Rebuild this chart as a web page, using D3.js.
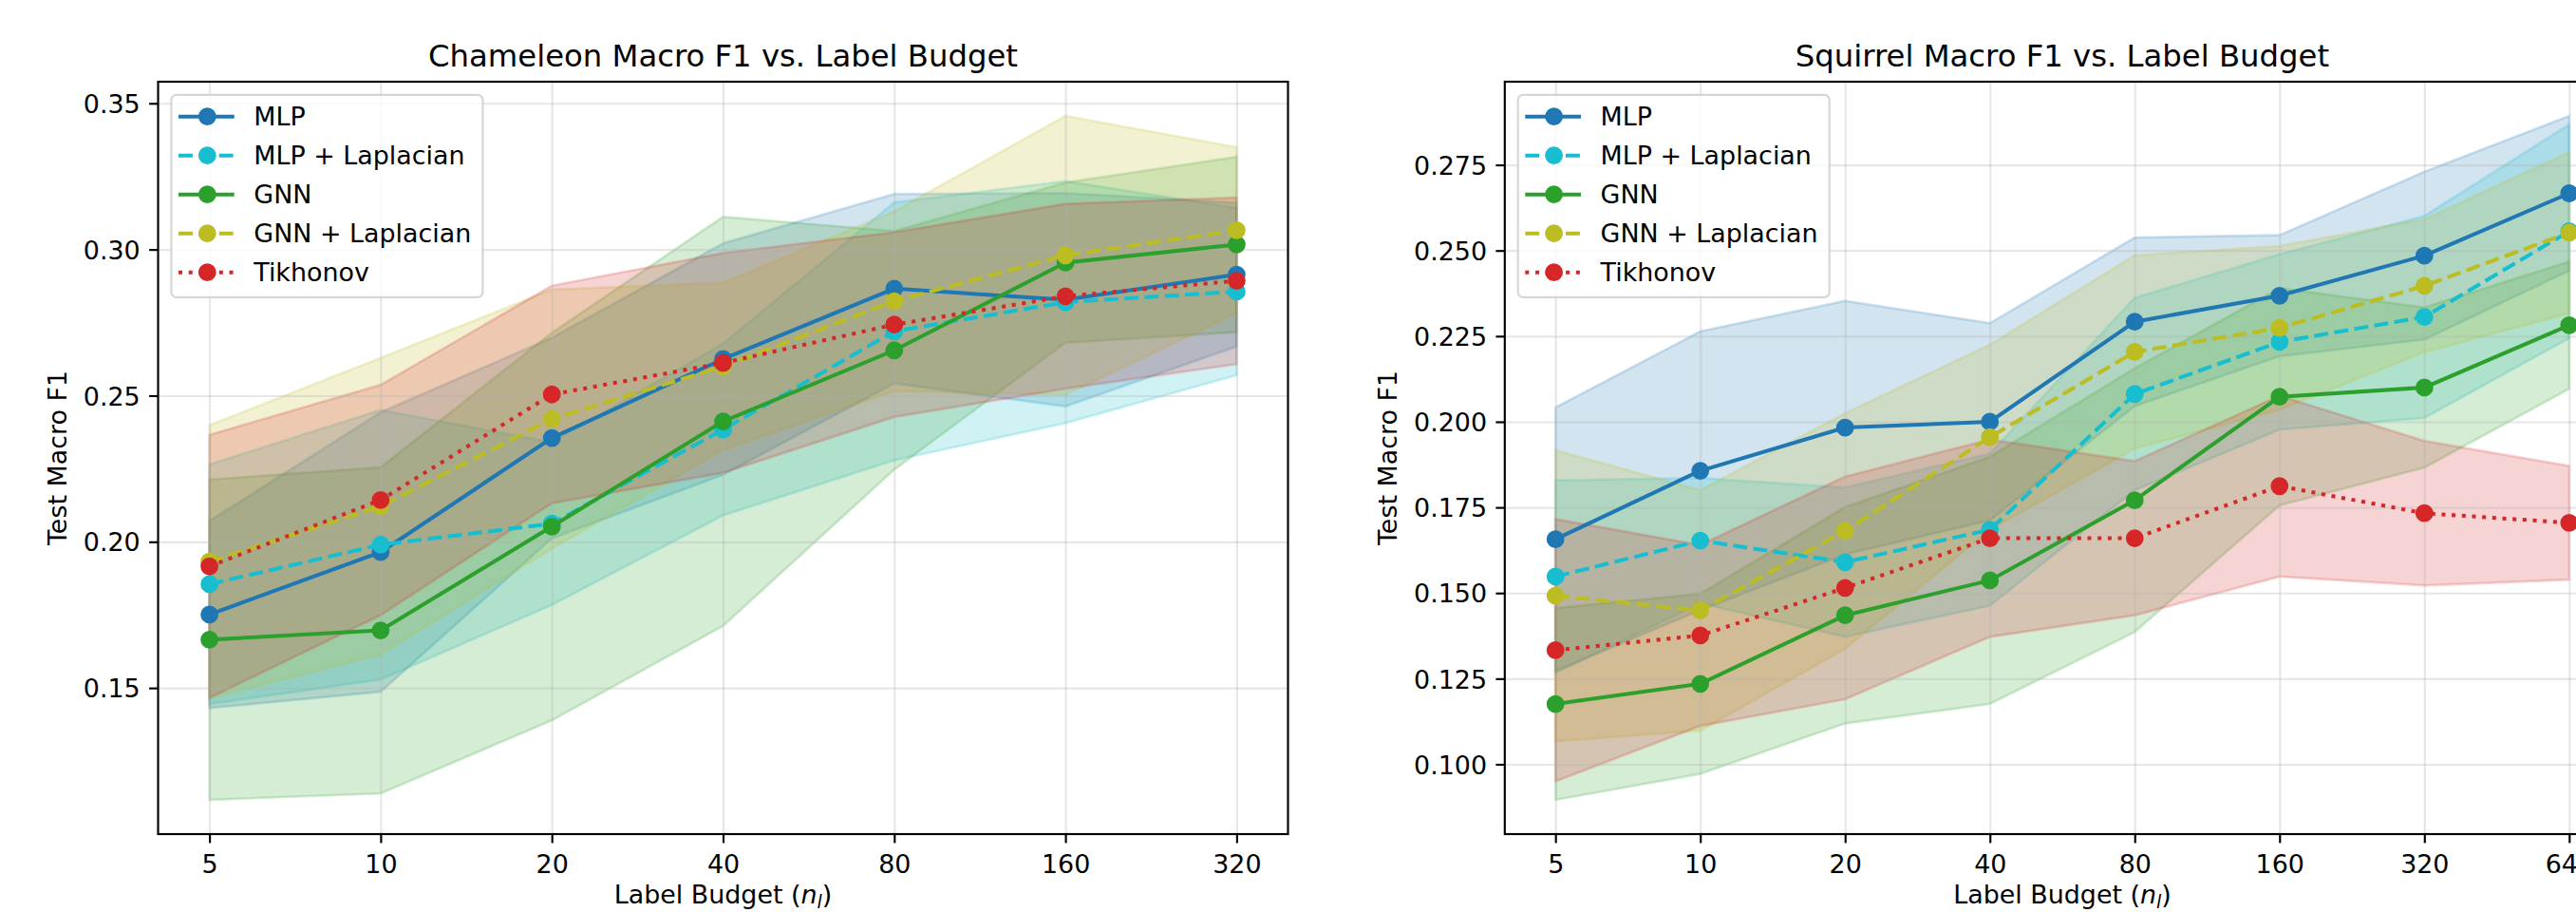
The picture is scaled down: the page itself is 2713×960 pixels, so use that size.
<!DOCTYPE html>
<html>
<head>
<meta charset="utf-8">
<script src="https://cdn.jsdelivr.net/npm/d3@7"></script>
<style>
  body { margin: 0; background: #fff; }
  svg text { font-family: "DejaVu Sans", sans-serif; fill: #000; }
</style>
</head>
<body>
<div id="chart"></div>
<script>
// label budgets (x values)
var budgets_chameleon = [5, 10, 20, 40, 80, 160, 320];
var budgets_squirrel  = [5, 10, 20, 40, 80, 160, 320, 640];

var method_names = ["MLP", "MLP + Laplacian", "GNN", "GNN + Laplacian", "Tikhonov"];

// Chameleon: mean macro F1 and std (band = mean +/- std)
var cham_mlp_mean     = [0.1751, 0.1965, 0.2355, 0.2625, 0.2866, 0.2828, 0.2914];
var cham_mlp_std      = [0.0320, 0.0478, 0.0343, 0.0396, 0.0324, 0.0365, 0.0246];
var cham_mlplap_mean  = [0.1855, 0.1990, 0.2062, 0.2384, 0.2720, 0.2820, 0.2856];
var cham_mlplap_std   = [0.0410, 0.0461, 0.0278, 0.0294, 0.0441, 0.0414, 0.0286];
var cham_gnn_mean     = [0.1665, 0.1697, 0.2052, 0.2412, 0.2655, 0.2955, 0.3017];
var cham_gnn_std      = [0.0548, 0.0558, 0.0663, 0.0700, 0.0408, 0.0274, 0.0300];
var cham_gnnlap_mean  = [0.1932, 0.2122, 0.2420, 0.2600, 0.2823, 0.2980, 0.3066];
var cham_gnnlap_std   = [0.0467, 0.0507, 0.0443, 0.0286, 0.0307, 0.0477, 0.0284];
var cham_tik_mean     = [0.1916, 0.2143, 0.2504, 0.2612, 0.2743, 0.2840, 0.2893];
var cham_tik_std      = [0.0450, 0.0394, 0.0372, 0.0376, 0.0316, 0.0316, 0.0285];

// Squirrel
var sq_mlp_mean     = [0.1657, 0.1857, 0.1983, 0.2000, 0.2292, 0.2368, 0.2485, 0.2667];
var sq_mlp_std      = [0.0385, 0.0407, 0.0370, 0.0288, 0.0246, 0.0177, 0.0245, 0.0226];
var sq_mlplap_mean  = [0.1548, 0.1653, 0.1590, 0.1685, 0.2081, 0.2233, 0.2306, 0.2556];
var sq_mlplap_std   = [0.0281, 0.0183, 0.0218, 0.0222, 0.0281, 0.0256, 0.0295, 0.0312];
var sq_gnn_mean     = [0.1176, 0.1235, 0.1435, 0.1537, 0.1771, 0.2073, 0.2100, 0.2282];
var sq_gnn_std      = [0.0280, 0.0263, 0.0316, 0.0361, 0.0385, 0.0317, 0.0234, 0.0186];
var sq_gnnlap_mean  = [0.1492, 0.1449, 0.1681, 0.1955, 0.2204, 0.2274, 0.2397, 0.2552];
var sq_gnnlap_std   = [0.0425, 0.0351, 0.0344, 0.0270, 0.0282, 0.0239, 0.0194, 0.0235];
var sq_tik_mean     = [0.1333, 0.1376, 0.1515, 0.1660, 0.1660, 0.1812, 0.1733, 0.1705];
var sq_tik_std      = [0.0383, 0.0264, 0.0325, 0.0288, 0.0225, 0.0264, 0.0211, 0.0166];

// y tick labels
var yticks_chameleon = [0.15, 0.20, 0.25, 0.30, 0.35];
var yticks_squirrel  = [0.100, 0.125, 0.150, 0.175, 0.200, 0.225, 0.250, 0.275];

// styles
var colors = ["#1f77b4", "#17becf", "#2ca02c", "#bcbd22", "#d62728"];
var dashes = [null, "14.9,6.46", null, "14.9,6.46", "4.04,6.66"];

var FS = 26.9;        // 10pt
var FS_TITLE = 32.3;  // 12pt
var W = 2713, H = 960;
var top_px = 86, bottom_px = 878;

var svg = d3.select("#chart").append("svg")
  .attr("width", W).attr("height", H);
svg.append("rect").attr("width", W).attr("height", H).attr("fill", "#fff");

var panels = [
  { title: "Chameleon Macro F1 vs. Label Budget", left: 166.5, right: 1356.5,
    budgets: budgets_chameleon, yticks: yticks_chameleon, yfmt: ".2f",
    means: [cham_mlp_mean, cham_mlplap_mean, cham_gnn_mean, cham_gnnlap_mean, cham_tik_mean],
    stds:  [cham_mlp_std, cham_mlplap_std, cham_gnn_std, cham_gnnlap_std, cham_tik_std] },
  { title: "Squirrel Macro F1 vs. Label Budget", left: 1584.8, right: 2759.2,
    budgets: budgets_squirrel, yticks: yticks_squirrel, yfmt: ".3f",
    means: [sq_mlp_mean, sq_mlplap_mean, sq_gnn_mean, sq_gnnlap_mean, sq_tik_mean],
    stds:  [sq_mlp_std, sq_mlplap_std, sq_gnn_std, sq_gnnlap_std, sq_tik_std] }
];

function draw_panel(cfg) {
  var width = cfg.right - cfg.left;
  var height = bottom_px - top_px;

  // log2 x with 5% margins like matplotlib
  var lo = Math.log2(d3.min(cfg.budgets)), hi = Math.log2(d3.max(cfg.budgets));
  var mx = 0.05 * (hi - lo);
  var x = d3.scaleLog().base(2)
    .domain([Math.pow(2, lo - mx), Math.pow(2, hi + mx)])
    .range([0, width]);

  var lows = [], highs = [];
  cfg.means.forEach(function(m, i) {
    m.forEach(function(v, j) { lows.push(v - cfg.stds[i][j]); highs.push(v + cfg.stds[i][j]); });
  });
  var ymin = d3.min(lows), ymax = d3.max(highs), my = 0.05 * (ymax - ymin);
  var y = d3.scaleLinear().domain([ymin - my, ymax + my]).range([height, 0]);

  var g = svg.append("g").attr("transform", "translate(" + cfg.left + "," + top_px + ")");

  // std bands
  var area = d3.area()
    .x(function(d) { return x(d.b); })
    .y0(function(d) { return y(d.m - d.s); })
    .y1(function(d) { return y(d.m + d.s); });

  var series = cfg.means.map(function(m, i) {
    return cfg.budgets.map(function(b, j) { return { b: b, m: m[j], s: cfg.stds[i][j] }; });
  });

  series.forEach(function(pts, i) {
    g.append("path").datum(pts)
      .attr("d", area)
      .attr("fill", colors[i]).attr("fill-opacity", 0.2)
      .attr("stroke", colors[i]).attr("stroke-opacity", 0.2).attr("stroke-width", 2.69);
  });

  // grid
  var gx = g.append("g").attr("transform", "translate(0," + height + ")")
    .call(d3.axisBottom(x).tickValues(cfg.budgets).tickSize(-height).tickFormat(""));
  var gy = g.append("g")
    .call(d3.axisLeft(y).tickValues(cfg.yticks).tickSize(-width).tickFormat(""));
  [gx, gy].forEach(function(a) {
    a.select(".domain").remove();
    a.selectAll("line").attr("stroke", "#b0b0b0").attr("stroke-opacity", 0.3).attr("stroke-width", 2.15);
  });

  // lines + markers
  var line = d3.line()
    .x(function(d) { return x(d.b); })
    .y(function(d) { return y(d.m); });

  series.forEach(function(pts, i) {
    g.append("path").datum(pts)
      .attr("d", line)
      .attr("fill", "none")
      .attr("stroke", colors[i])
      .attr("stroke-width", 4.04)
      .attr("stroke-dasharray", dashes[i])
      .attr("stroke-linecap", "butt");
    g.selectAll(null).data(pts).enter().append("circle")
      .attr("cx", function(d) { return x(d.b); })
      .attr("cy", function(d) { return y(d.m); })
      .attr("r", 8.05)
      .attr("fill", colors[i])
      .attr("stroke", colors[i])
      .attr("stroke-width", 2.69);
  });

  // spines
  g.append("rect").attr("width", width).attr("height", height)
    .attr("fill", "none").attr("stroke", "#000").attr("stroke-width", 2.15);

  // axes with ticks
  var ax = g.append("g").attr("transform", "translate(0," + height + ")")
    .call(d3.axisBottom(x).tickValues(cfg.budgets).tickFormat(function(d) { return String(d); })
      .tickSize(9.4).tickPadding(9.4).tickSizeOuter(0));
  var ay = g.append("g")
    .call(d3.axisLeft(y).tickValues(cfg.yticks).tickFormat(d3.format(cfg.yfmt))
      .tickSize(9.4).tickPadding(9.4).tickSizeOuter(0));
  [ax, ay].forEach(function(a) {
    a.select(".domain").remove();
    a.selectAll("line").attr("stroke", "#000").attr("stroke-width", 2.15);
    a.selectAll("text").attr("font-size", FS).attr("font-family", "DejaVu Sans").attr("fill", "#000");
  });
  ax.selectAll("text").attr("y", 40.5).attr("dy", null);
  ay.selectAll("text").attr("dy", "0.36em");

  // title
  g.append("text")
    .attr("x", width / 2).attr("y", -16)
    .attr("text-anchor", "middle")
    .attr("font-size", FS_TITLE)
    .text(cfg.title);

  // x label (kept just inside the bottom edge)
  var xl = g.append("text")
    .attr("x", width / 2).attr("y", height + 73)
    .attr("text-anchor", "middle")
    .attr("font-size", FS);
  xl.append("tspan").text("Label Budget (");
  xl.append("tspan").attr("font-style", "italic").text("n");
  xl.append("tspan").attr("font-style", "italic").attr("font-size", FS * 0.7).attr("dy", 5).text("l");
  xl.append("tspan").attr("dy", -5).text(")");

  // y label, placed left of the tick labels
  var bb = ay.node().getBBox();
  var cx = bb.x - 27.7;
  g.append("text")
    .attr("transform", "translate(" + (cx + 9.8) + "," + (height / 2) + ") rotate(-90)")
    .attr("text-anchor", "middle")
    .attr("font-size", FS)
    .text("Test Macro F1");

  // legend
  var lg = g.append("g").attr("transform", "translate(13.9,13.9)");
  lg.append("rect")
    .attr("width", 328).attr("height", 213).attr("rx", 5.4).attr("ry", 5.4)
    .attr("fill", "#fff").attr("fill-opacity", 0.8)
    .attr("stroke", "#cccccc").attr("stroke-opacity", 0.8).attr("stroke-width", 2.2);
  method_names.forEach(function(name, i) {
    var cy = 22.8 + i * 41;
    lg.append("line")
      .attr("x1", 7.6).attr("x2", 66.3).attr("y1", cy).attr("y2", cy)
      .attr("stroke", colors[i]).attr("stroke-width", 4.04)
      .attr("stroke-dasharray", dashes[i]);
    lg.append("circle").attr("cx", 37.9).attr("cy", cy).attr("r", 8.05)
      .attr("fill", colors[i]).attr("stroke", colors[i]).attr("stroke-width", 2.69);
    lg.append("text").attr("x", 86.9).attr("y", cy + 9.8)
      .attr("font-size", FS).text(name);
  });
}

panels.forEach(draw_panel);
</script>
</body>
</html>
